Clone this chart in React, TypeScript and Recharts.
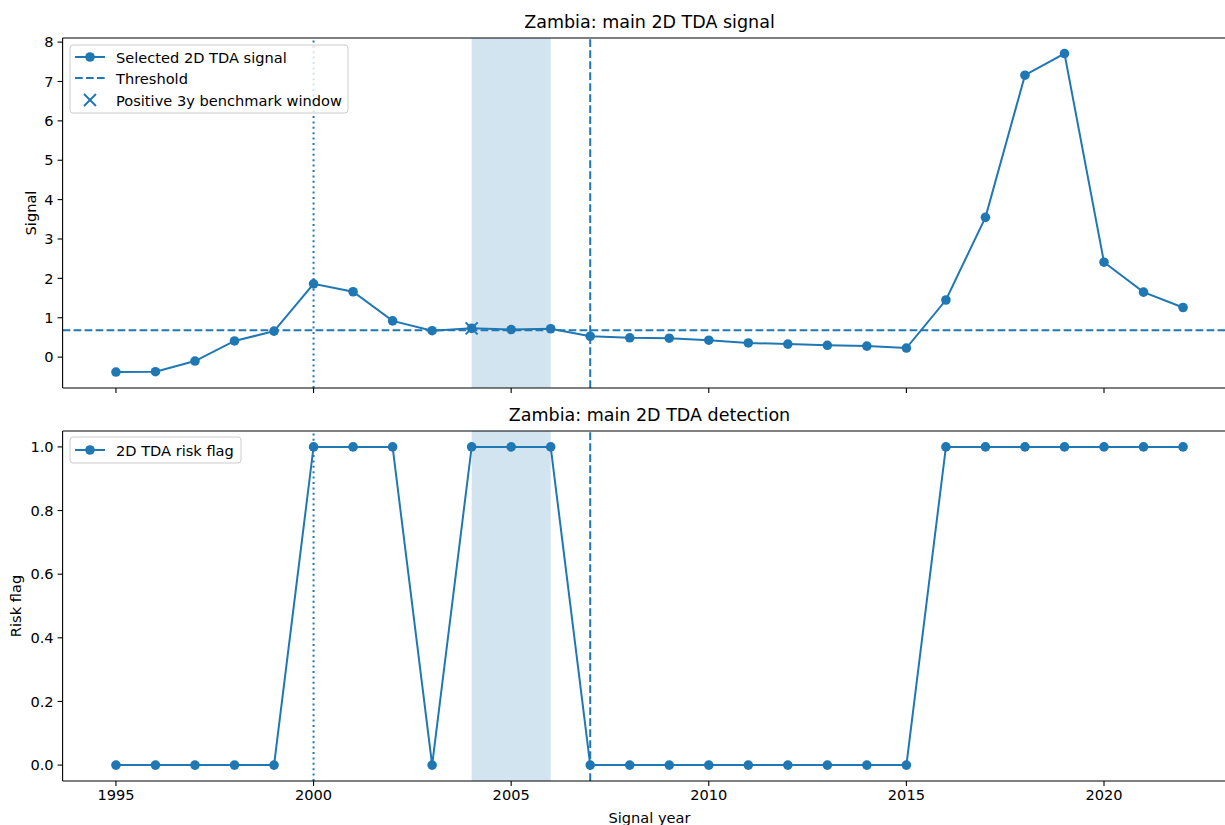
import React from "react";
import {
  ComposedChart,
  Line,
  Scatter,
  XAxis,
  YAxis,
  ReferenceLine,
  ReferenceArea,
} from "recharts";

const years = [1995, 1996, 1997, 1998, 1999, 2000, 2001, 2002, 2003, 2004, 2005, 2006, 2007, 2008, 2009, 2010, 2011, 2012, 2013, 2014, 2015, 2016, 2017, 2018, 2019, 2020, 2021, 2022];
const signalValues = [-0.38, -0.37, -0.1, 0.41, 0.66, 1.86, 1.66, 0.92, 0.67, 0.73, 0.7, 0.72, 0.53, 0.49, 0.48, 0.43, 0.36, 0.33, 0.3, 0.28, 0.23, 1.45, 3.55, 7.16, 7.71, 2.41, 1.65, 1.26];
const riskFlags = [0, 0, 0, 0, 0, 1, 1, 1, 0, 1, 1, 1, 0, 0, 0, 0, 0, 0, 0, 0, 0, 1, 1, 1, 1, 1, 1, 1];
const threshold = 0.68;
const benchmarkYears = [2004];
const benchmarkValues = [0.73];
const windowStart = 2004;
const windowEnd = 2006;
const firstSignalYear = 2000;
const eventYear = 2007;
const xTicks = [1995, 2000, 2005, 2010, 2015, 2020];
const signalTicks = [0, 1, 2, 3, 4, 5, 6, 7, 8];
const flagTicks = [0, 0.2, 0.4, 0.6, 0.8, 1.0];

const signalData = years.map((y, i) => ({ year: y, signal: signalValues[i] }));
const flagData = years.map((y, i) => ({ year: y, flag: riskFlags[i] }));
const benchmarkData = benchmarkYears.map((y, i) => ({ year: y, signal: benchmarkValues[i] }));

const BLUE = "#1f77b4";
const FONT = "DejaVu Sans, sans-serif";
const X_DOMAIN: [number, number] = [1993.65, 2023.35];
const S_DOMAIN: [number, number] = [-0.7845, 8.1045];
const F_DOMAIN: [number, number] = [-0.05, 1.05];
const FS = 14.6;
const TFS = 17.5;

const tickStyle = { fill: "#000", fontSize: FS, fontFamily: FONT };

const XMark = (props: any) => {
  const { cx, cy } = props;
  if (cx == null || cy == null) return null;
  const s = 6;
  return (
    <g stroke={BLUE} strokeWidth={2}>
      <line x1={cx - s} y1={cy - s} x2={cx + s} y2={cy + s} />
      <line x1={cx - s} y1={cy + s} x2={cx + s} y2={cy - s} />
    </g>
  );
};

const dot = { r: 4.8, fill: BLUE, stroke: BLUE, strokeWidth: 0 };

export default function App() {
  return (
    <div style={{ position: "absolute", left: 0, top: 0, width: 1225, height: 825, overflow: "hidden", background: "#fff" }}>
      <div style={{ position: "absolute", left: 0, top: 0 }}>
        <ComposedChart width={1240} height={420} data={signalData} margin={{ top: 38, right: 3.6, left: 22.6, bottom: 2 }}>
          <ReferenceArea x1={windowStart} x2={windowEnd} fill={BLUE} fillOpacity={0.2} stroke="none" ifOverflow="visible" />
          <XAxis
            dataKey="year"
            type="number"
            domain={X_DOMAIN}
            ticks={xTicks}
            allowDataOverflow
            height={30}
            tickSize={5}
            tickFormatter={() => ""}
            tick={tickStyle}
            axisLine={{ stroke: "#000", strokeWidth: 1.1 }}
            tickLine={{ stroke: "#000", strokeWidth: 1.1 }}
          />
          <YAxis
            type="number"
            domain={S_DOMAIN}
            ticks={signalTicks}
            allowDataOverflow
            width={40}
            tickSize={5}
            tickMargin={4}
            tick={tickStyle}
            axisLine={{ stroke: "#000", strokeWidth: 1.1 }}
            tickLine={{ stroke: "#000", strokeWidth: 1.1 }}
          />
          <ReferenceLine y={S_DOMAIN[1]} stroke="#000" strokeWidth={1.1} />
          <ReferenceLine x={X_DOMAIN[1]} stroke="#000" strokeWidth={1.1} />
          <ReferenceLine x={firstSignalYear} stroke={BLUE} strokeWidth={2} strokeDasharray="2 3.4" />
          <ReferenceLine x={eventYear} stroke={BLUE} strokeWidth={2} strokeDasharray="7.7 3.3" />
          <ReferenceLine y={threshold} stroke={BLUE} strokeWidth={2} strokeDasharray="7.7 3.3" />
          <Line dataKey="signal" stroke={BLUE} strokeWidth={2} dot={dot} activeDot={false} isAnimationActive={false} />
          <Scatter data={benchmarkData} dataKey="signal" shape={XMark} isAnimationActive={false} />
        </ComposedChart>
      </div>
      <div style={{ position: "absolute", left: 0, top: 400 }}>
        <ComposedChart width={1240} height={425} data={flagData} margin={{ top: 31, right: 3.6, left: 22.6, bottom: 0 }}>
          <ReferenceArea x1={windowStart} x2={windowEnd} fill={BLUE} fillOpacity={0.2} stroke="none" ifOverflow="visible" />
          <XAxis
            dataKey="year"
            type="number"
            domain={X_DOMAIN}
            ticks={xTicks}
            allowDataOverflow
            height={44}
            tickSize={5}
            tickMargin={4}
            tick={tickStyle}
            axisLine={{ stroke: "#000", strokeWidth: 1.1 }}
            tickLine={{ stroke: "#000", strokeWidth: 1.1 }}
          />
          <YAxis
            type="number"
            domain={F_DOMAIN}
            ticks={flagTicks}
            allowDataOverflow
            width={40}
            tickSize={5}
            tickMargin={4}
            tickFormatter={(v: number) => v.toFixed(1)}
            tick={tickStyle}
            axisLine={{ stroke: "#000", strokeWidth: 1.1 }}
            tickLine={{ stroke: "#000", strokeWidth: 1.1 }}
          />
          <ReferenceLine y={F_DOMAIN[1]} stroke="#000" strokeWidth={1.1} />
          <ReferenceLine x={X_DOMAIN[1]} stroke="#000" strokeWidth={1.1} />
          <ReferenceLine x={firstSignalYear} stroke={BLUE} strokeWidth={2} strokeDasharray="2 3.4" />
          <ReferenceLine x={eventYear} stroke={BLUE} strokeWidth={2} strokeDasharray="7.7 3.3" />
          <Line dataKey="flag" stroke={BLUE} strokeWidth={2} dot={dot} activeDot={false} isAnimationActive={false} />
        </ComposedChart>
      </div>
      <svg width={1225} height={825} style={{ position: "absolute", left: 0, top: 0, pointerEvents: "none" }} fontFamily={FONT}>
        <text x={649.5} y={22} textAnchor="middle" dominantBaseline="central" fontSize={TFS} fill="#000">Zambia: main 2D TDA signal</text>
        <text x={649.5} y={415} textAnchor="middle" dominantBaseline="central" fontSize={TFS} fill="#000">Zambia: main 2D TDA detection</text>
        <text x={30} y={213} textAnchor="middle" dominantBaseline="central" fontSize={FS} fill="#000" transform="rotate(-90 30 213)">Signal</text>
        <text x={15} y={606} textAnchor="middle" dominantBaseline="central" fontSize={FS} fill="#000" transform="rotate(-90 15 606)">Risk flag</text>
        <text x={649.5} y={817} textAnchor="middle" dominantBaseline="central" fontSize={FS} fill="#000">Signal year</text>

        <rect x={70} y={45} width={278} height={68} rx={3} fill="#fff" fillOpacity={0.8} stroke="#ccc" strokeWidth={1} />
        <line x1={75} y1={57} x2={105} y2={57} stroke={BLUE} strokeWidth={2} />
        <circle cx={90} cy={57} r={4.8} fill={BLUE} />
        <text x={116} y={57} dominantBaseline="central" fontSize={FS} fill="#000">Selected 2D TDA signal</text>
        <line x1={75} y1={78} x2={105} y2={78} stroke={BLUE} strokeWidth={2} strokeDasharray="7.7 3.3" />
        <text x={116} y={78} dominantBaseline="central" fontSize={FS} fill="#000">Threshold</text>
        <g stroke={BLUE} strokeWidth={2}>
          <line x1={84} y1={94} x2={96} y2={106} />
          <line x1={84} y1={106} x2={96} y2={94} />
        </g>
        <text x={116} y={100} dominantBaseline="central" fontSize={FS} fill="#000">Positive 3y benchmark window</text>

        <rect x={70} y={437} width={171} height={26} rx={3} fill="#fff" fillOpacity={0.8} stroke="#ccc" strokeWidth={1} />
        <line x1={75} y1={450} x2={105} y2={450} stroke={BLUE} strokeWidth={2} />
        <circle cx={90} cy={450} r={4.8} fill={BLUE} />
        <text x={116} y={450} dominantBaseline="central" fontSize={FS} fill="#000">2D TDA risk flag</text>
      </svg>
    </div>
  );
}
